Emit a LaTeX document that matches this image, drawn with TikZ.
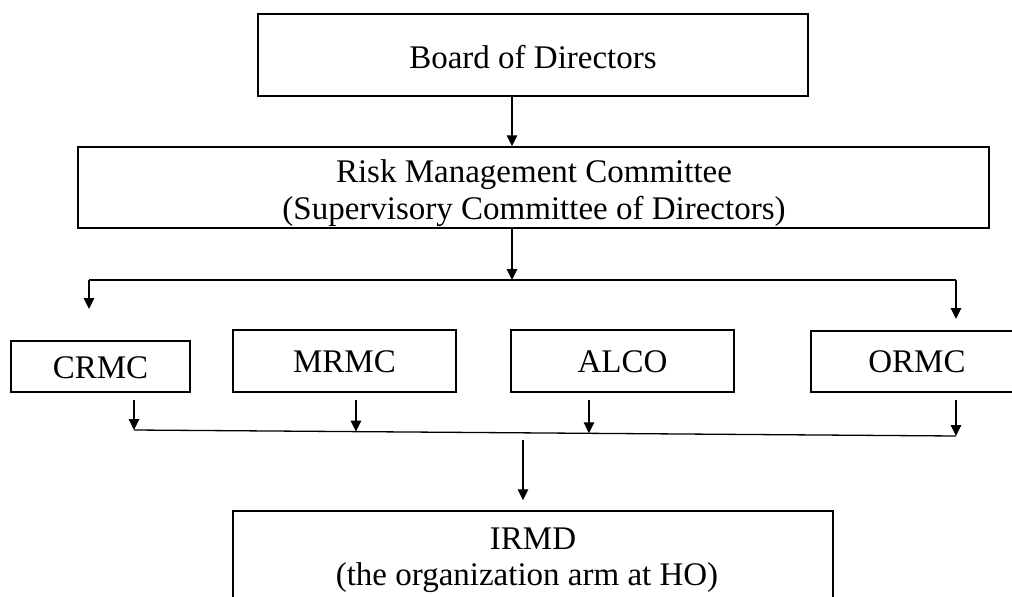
\documentclass[tikz,border=0pt]{standalone}
\usepackage{fontspec}
\setmainfont{Liberation Serif}
\usetikzlibrary{arrows.meta,calc}
\begin{document}
\begin{tikzpicture}[x=1pt,y=-1pt,
  box/.style={draw,line width=1.5pt,rectangle,inner sep=0pt},
  txt/.style={font=\fontsize{33}{37}\selectfont,anchor=base,inner sep=0pt},
  arr/.style={line width=1.3pt,-{Triangle[width=10.5pt,length=11pt]}},
  ln/.style={line width=1.3pt}]
\useasboundingbox (0,0) rectangle (1012,597);
\clip (0,0) rectangle (1012,597);
% boxes
\node[box,minimum width=550pt,minimum height=82pt] (bod) at (533,55) {};
\node[box,minimum width=911pt,minimum height=81pt] (rmc) at (533.5,187.5) {};
\node[box,minimum width=179pt,minimum height=51pt] (crmc) at (100.5,366.5) {};
\node[box,minimum width=223pt,minimum height=62pt] (mrmc) at (344.5,361) {};
\node[box,minimum width=223pt,minimum height=62pt] (alco) at (622.5,361) {};
\node[box,minimum width=212pt,minimum height=61pt] (ormc) at (917,361.5) {};
\node[box,minimum width=600pt,minimum height=120pt] (irmd) at (533,571) {};
% texts
\node[txt] (tbod) at (533,68) {Board of Directors};
\node[txt] (trmc1) at (534,182) {Risk Management Committee};
\node[txt] (trmc2) at (534,219) {(Supervisory Committee of Directors)};
\node[txt] (tcrmc) at (100.5,378) {CRMC};
\node[txt] (tmrmc) at (344.5,372) {MRMC};
\node[txt] (talco) at (622.5,372) {ALCO};
\node[txt] (tormc) at (917,372) {ORMC};
\node[txt] (tirmd1) at (533,549) {IRMD};
\node[txt] (tirmd2) at (527,585) {(the organization arm at HO)};
% connectors
\coordinate (j) at (512,280);
\coordinate (jl) at (89,280);
\coordinate (jr) at (956,280);
\coordinate (tl) at (89,309);
\coordinate (tr) at (956,319);
\draw[arr] (bod.south -| j) -- (rmc.north -| j);
\draw[arr] (rmc.south -| j) -- (j);
\draw[ln] (jl) -- (jr);
\draw[arr] (jl) -- (tl);
\draw[arr] (jr) -- (tr);
\coordinate (bl) at (134,430);
\coordinate (br) at (956,436);
\coordinate (bm) at ($(bl)!0.27!(br)$);
\coordinate (ba) at ($(bl)!0.5535!(br)$);
\draw[ln] (bl) -- (br);
\draw[arr] ([yshift=-7pt]crmc.south -| bl) -- (bl);
\draw[arr] ([yshift=-7pt]mrmc.south -| bm) -- (bm);
\draw[arr] ([yshift=-7pt]alco.south -| ba) -- (ba);
\draw[arr] ([yshift=-7pt]ormc.south -| br) -- (br);
\coordinate (ia) at (523,440);
\draw[arr] (ia) -- ([yshift=10pt]irmd.north -| ia);
\end{tikzpicture}
\end{document}
